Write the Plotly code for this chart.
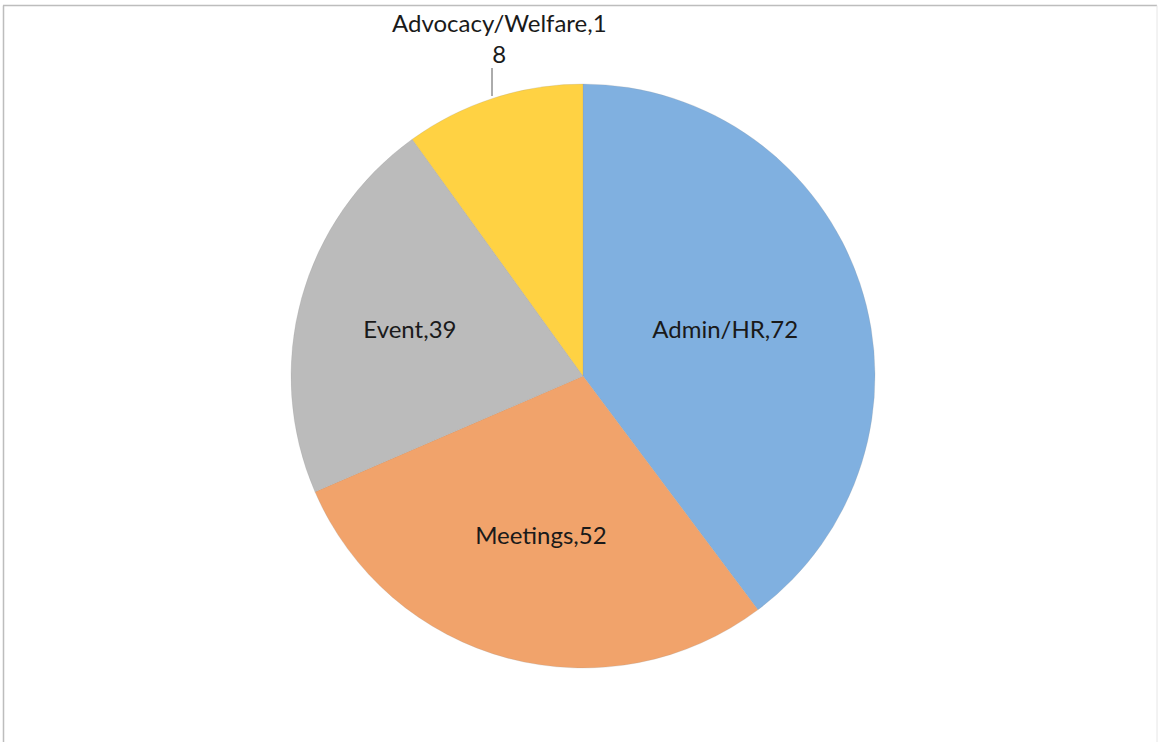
import plotly.graph_objects as go

categories = ["Admin/HR", "Meetings", "Event", "Advocacy/Welfare"]
values = [72, 52, 39, 18]
colors = ["#80b0e0", "#f1a36b", "#bbbbbb", "#ffd243"]

W, H = 1158, 742
cx, cy, r = 583, 376, 292
FONT = dict(family="Lato", size=24, color="#1a1a1a")

fig = go.Figure()
fig.add_trace(go.Pie(
    labels=categories,
    values=values,
    sort=False,
    direction="clockwise",
    rotation=0,
    marker=dict(colors=colors, line=dict(color="rgba(150,150,150,0.35)", width=0.6)),
    texttemplate="%{label},%{value}",
    textposition=["inside", "inside", "inside", "none"],
    insidetextorientation="horizontal",
    textfont=FONT,
    showlegend=False,
    hoverinfo="label+value",
    domain=dict(x=[(cx - r) / W, (cx + r) / W], y=[(H - cy - r) / H, (H - cy + r) / H]),
))

fig.add_annotation(
    x=499 / W, y=1 - 38 / H, xref="paper", yref="paper",
    xanchor="center", yanchor="middle",
    text=f"{categories[3]},1<br>{str(values[3])[1:]}",
    showarrow=False, font=FONT,
    align="center",
)
fig.add_shape(type="line", xref="paper", yref="paper",
              x0=492 / W, x1=492 / W, y0=1 - 68 / H, y1=1 - 96 / H,
              line=dict(color="#595959", width=1))

# outer frame
fig.add_shape(type="line", xref="paper", yref="paper", x0=3 / W, x1=1157 / W, y0=1 - 5.5 / H, y1=1 - 5.5 / H,
              line=dict(color="#bdbdbd", width=1.5))
fig.add_shape(type="line", xref="paper", yref="paper", x0=3.5 / W, x1=3.5 / W, y0=0, y1=1 - 5.5 / H,
              line=dict(color="#bdbdbd", width=1.5))
fig.add_shape(type="line", xref="paper", yref="paper", x0=1157 / W, x1=1157 / W, y0=0, y1=1 - 5.5 / H,
              line=dict(color="#e6e6e6", width=1))

fig.update_layout(
    width=W, height=H,
    margin=dict(l=0, r=0, t=0, b=0),
    paper_bgcolor="white", plot_bgcolor="white",
)

fig.write_html("out.html")
